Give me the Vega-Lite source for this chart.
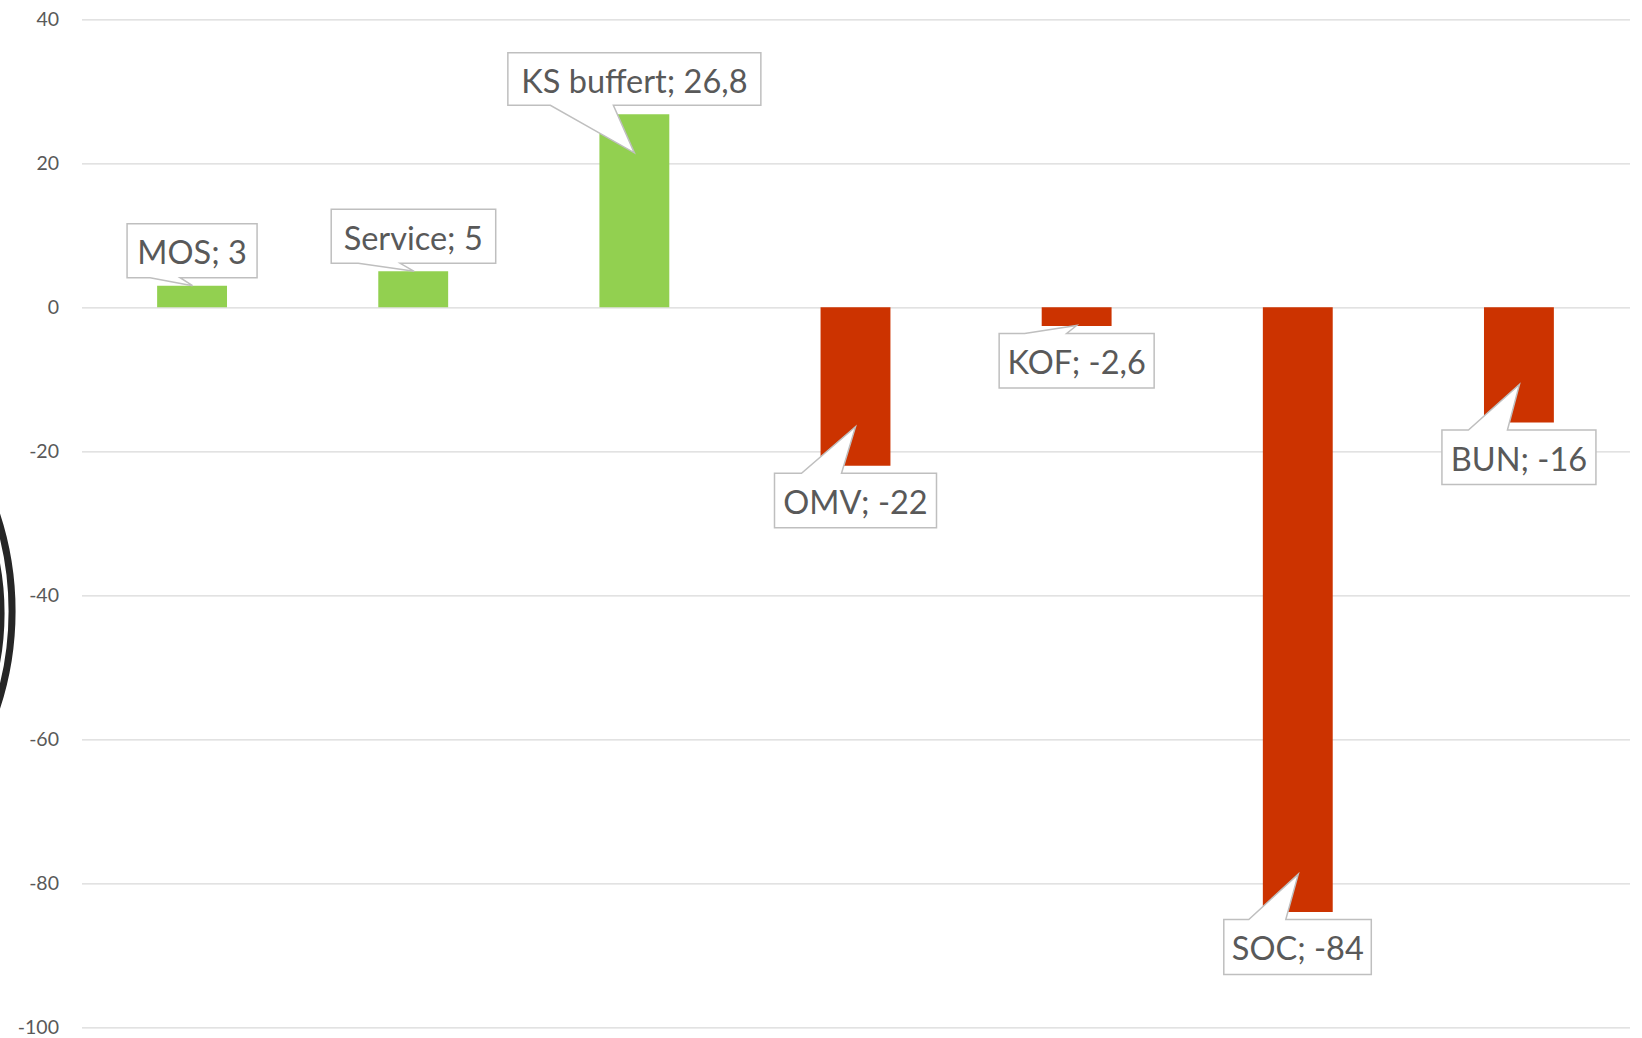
{
  "$schema": "https://vega.github.io/schema/vega-lite/v6.json",
  "width": 1548,
  "height": 1008,
  "autosize": {"type": "none"},
  "padding": {"left": 81.5, "top": 19.3, "right": 12.5, "bottom": 10.7},
  "background": "white",
  "config": {"view": {"stroke": null}},
  "data": {
    "values": [
      {"cat": "MOS", "value": 3},
      {"cat": "Service", "value": 5},
      {"cat": "KS buffert", "value": 26.8},
      {"cat": "OMV", "value": -22},
      {"cat": "KOF", "value": -2.6},
      {"cat": "SOC", "value": -84},
      {"cat": "BUN", "value": -16}
    ]
  },
  "transform": [
    {"calculate": "datum.cat + '; ' + replace('' + datum.value, '.', ',')", "as": "label"}
  ],
  "encoding": {
    "x": {
      "field": "cat",
      "type": "nominal",
      "sort": null,
      "axis": null,
      "scale": {"paddingInner": 0.684, "paddingOuter": 0.342}
    },
    "y": {
      "field": "value",
      "type": "quantitative",
      "scale": {"domain": [-100, 40], "nice": false, "zero": false},
      "axis": {
        "values": [-100, -80, -60, -40, -20, 0, 20, 40],
        "title": null,
        "grid": true,
        "gridColor": "#d9d9d9",
        "gridWidth": 1.3,
        "domain": false,
        "ticks": false,
        "labelPadding": 23,
        "labelFont": "Lato",
        "labelFontSize": 19.5,
        "labelColor": "#595959",
        "labelExpr": "'' + datum.value"
      }
    }
  },
  "layer": [
    {
      "mark": {"type": "bar"},
      "encoding": {
        "color": {
          "condition": {"test": "datum.value > 0", "value": "#92D050"},
          "value": "#CC3300"
        }
      }
    },
    {
      "mark": {
        "type": "point",
        "filled": true,
        "fill": "white",
        "stroke": "#bfbfbf",
        "strokeWidth": 1.5,
        "size": 4,
        "opacity": 1,
        "fillOpacity": 1,
        "strokeOpacity": 1
      },
      "encoding": {
        "shape": {
          "field": "cat",
          "type": "nominal",
          "legend": null,
          "scale": {
            "domain": ["MOS", "Service", "KS buffert", "OMV", "KOF", "SOC", "BUN"],
            "range": [
              "M -65 -62 L 65 -62 L 65 -8 L -12 -8 L 0.5 0 L -42 -8 L -65 -8 Z",
              "M -82 -62 L 82.5 -62 L 82.5 -8 L -13 -8 L 1 0 L -55 -8 L -82 -8 Z",
              "M -126.5 -61.5 L 126.5 -61.5 L 126.5 -9 L -21 -9 L 0 38.5 L -84 -9 L -126.5 -9 Z",
              "M -81 7.5 L -54 7.5 L 0 -39 L -14 7.5 L 81 7.5 L 81 62 L -81 62 Z",
              "M -77.5 7.5 L -52 7.5 L 0 -0.5 L -10 7.5 L 77.5 7.5 L 77.5 62 L -77.5 62 Z",
              "M -74 7.5 L -49 7.5 L 0.5 -38 L -12 7.5 L 73.5 7.5 L 73.5 62.5 L -74 62.5 Z",
              "M -77 7.5 L -50.5 7.5 L 0.5 -38 L -11.5 7.5 L 77 7.5 L 77 62 L -77 62 Z"
            ]
          }
        }
      }
    },
    {
      "transform": [{"filter": "datum.value >= 0"}],
      "mark": {
        "type": "text",
        "font": "Lato",
        "fontSize": 32.5,
        "color": "#595959",
        "align": "center",
        "baseline": "alphabetic",
        "dy": -21.5
      },
      "encoding": {"text": {"field": "label"}}
    },
    {
      "transform": [{"filter": "datum.value < 0"}],
      "mark": {
        "type": "text",
        "font": "Lato",
        "fontSize": 32.5,
        "color": "#595959",
        "align": "center",
        "baseline": "alphabetic",
        "dy": 48
      },
      "encoding": {"text": {"field": "label"}}
    },
    {
      "transform": [{"filter": "datum.cat == 'MOS'"}],
      "mark": {
        "type": "point",
        "filled": false,
        "stroke": "#262626",
        "strokeWidth": 7,
        "size": 4,
        "opacity": 1,
        "shape": "M -180 0 A 308 308 0 1 1 -796 0 A 308 308 0 1 1 -180 0 M -191 2 A 269 269 0 1 1 -729 2 A 269 269 0 1 1 -191 2"
      },
      "encoding": {
        "y": {"datum": -42.2}
      }
    }
  ]
}
